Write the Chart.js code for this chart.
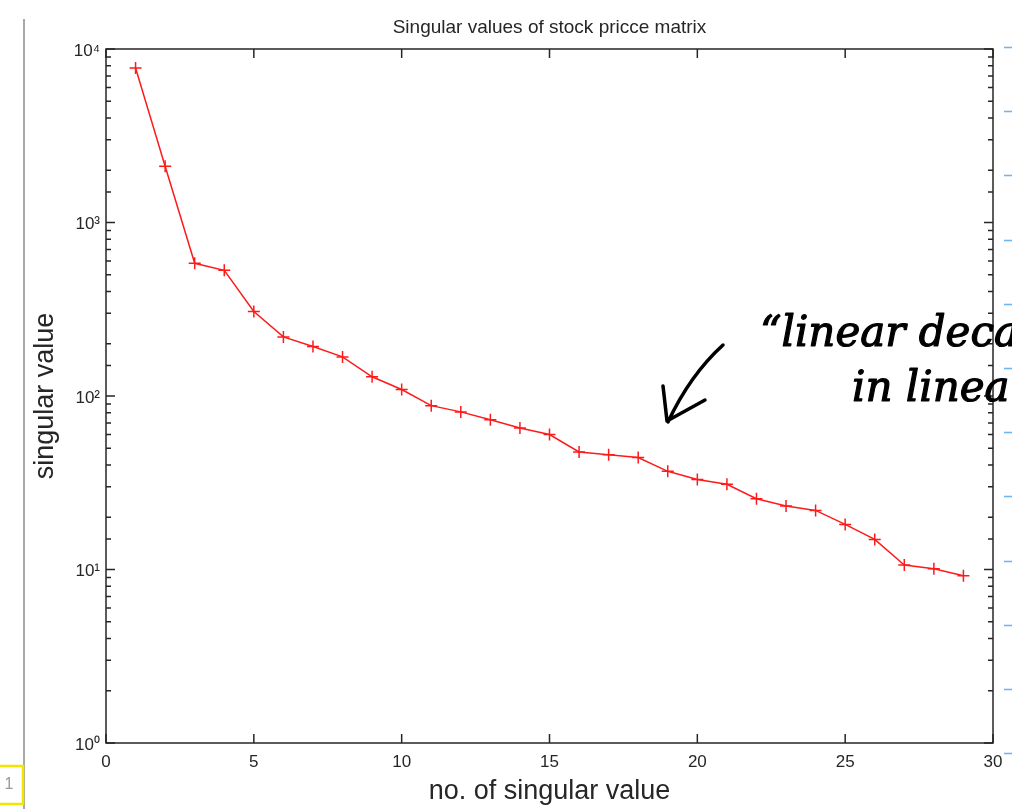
<!DOCTYPE html>
<html>
<head>
<meta charset="utf-8">
<script src="https://cdn.jsdelivr.net/npm/chart.js@4.4.1/dist/chart.umd.min.js"></script>
<style>
  html, body { margin: 0; padding: 0; background: #fff; }
  #graph { display: block; }
</style>
</head>
<body>
<canvas id="graph" width="1012" height="809"></canvas>
<script>
// rank of each singular value and its size
const ranks = [1, 2, 3, 4, 5, 6, 7, 8, 9, 10, 11, 12, 13, 14, 15, 16, 17, 18, 19, 20, 21, 22, 23, 24, 25, 26, 27, 28, 29];
const singularValues = [7770, 2110, 582, 530, 307, 219, 193, 168, 129, 109, 88, 81, 73, 65.4, 60, 47.6, 45.9, 44.2, 36.8, 33, 31, 25.6, 23.2, 21.9, 18.2, 14.9, 10.6, 10.1, 9.2];
const xTicks = [0, 5, 10, 15, 20, 25, 30];
const yDecades = [1, 10, 100, 1000, 10000];

const chartTitle = "Singular values of stock pricce matrix";
const sup = ["⁰", "¹", "²", "³", "⁴", "⁵"];
const fontFamily = "'Liberation Sans', Arial, Helvetica, sans-serif";
const axisColor = "#262626";

function isDecade(v) {
  return yDecades.some(d => Math.abs(d - v) < 1e-9);
}

// matlab style box with inward ticks, plus the title over the plot area
const matlabBox = {
  id: "matlabBox",
  afterDraw(chart) {
    const ctx = chart.ctx;
    const a = chart.chartArea;
    const xs = chart.scales.x;
    const ys = chart.scales.y;
    ctx.save();
    ctx.strokeStyle = axisColor;
    ctx.lineWidth = 1.5;
    ctx.strokeRect(a.left, a.top, a.right - a.left, a.bottom - a.top);
    ctx.beginPath();
    xs.ticks.forEach(t => {
      const px = xs.getPixelForValue(t.value);
      ctx.moveTo(px, a.bottom);
      ctx.lineTo(px, a.bottom - 9);
      ctx.moveTo(px, a.top);
      ctx.lineTo(px, a.top + 9);
    });
    ys.ticks.forEach(t => {
      const py = ys.getPixelForValue(t.value);
      const len = isDecade(t.value) ? 9 : 5;
      ctx.moveTo(a.left, py);
      ctx.lineTo(a.left + len, py);
      ctx.moveTo(a.right, py);
      ctx.lineTo(a.right - len, py);
    });
    ctx.stroke();

    ctx.fillStyle = axisColor;
    ctx.font = "19px " + fontFamily;
    ctx.textAlign = "center";
    ctx.textBaseline = "middle";
    ctx.fillText(chartTitle, (a.left + a.right) / 2, 28);
    ctx.restore();
  }
};

// bits of the screenshot around the figure: window edge, page marker, ruler, handwriting
const screenBits = {
  id: "screenBits",
  afterDraw(chart) {
    const ctx = chart.ctx;
    ctx.save();
    ctx.strokeStyle = "#8c8c8c";
    ctx.lineWidth = 1.5;
    ctx.beginPath();
    ctx.moveTo(24, 19);
    ctx.lineTo(24, 809);
    ctx.stroke();

    ctx.strokeStyle = "#f2e600";
    ctx.lineWidth = 2.5;
    ctx.strokeRect(-4, 766, 27, 38);
    ctx.fillStyle = "#9a9a9a";
    ctx.font = "16px " + fontFamily;
    ctx.textAlign = "center";
    ctx.textBaseline = "middle";
    ctx.fillText("1", 9, 785);

    ctx.strokeStyle = "#6cb4f0";
    ctx.lineWidth = 1.5;
    ctx.beginPath();
    for (let k = 0; k < 12; k++) {
      const y = Math.round(47 + 64.2 * k) + 0.5;
      ctx.moveTo(1004, y);
      ctx.lineTo(1012, y);
    }
    ctx.stroke();

    ctx.strokeStyle = "#000";
    ctx.lineWidth = 3.5;
    ctx.lineCap = "round";
    ctx.lineJoin = "round";
    ctx.beginPath();
    ctx.moveTo(723, 345);
    ctx.quadraticCurveTo(690, 375, 668, 422);
    ctx.moveTo(663, 386);
    ctx.lineTo(667, 421);
    ctx.lineTo(705, 400);
    ctx.stroke();

    ctx.fillStyle = "#000";
    ctx.lineWidth = 1.2;
    ctx.font = "italic 42px 'DejaVu Serif', serif";
    ctx.textAlign = "left";
    ctx.textBaseline = "alphabetic";
    ctx.fillText("\u201Clinear decay", 760, 346);
    ctx.strokeText("\u201Clinear decay", 760, 346);
    ctx.fillText("in linear", 852, 401);
    ctx.strokeText("in linear", 852, 401);
    ctx.restore();
  }
};

new Chart(document.getElementById("graph").getContext("2d"), {
  type: "line",
  data: {
    labels: ranks,
    datasets: [
      {
        label: "singular value",
        data: ranks.map((r, i) => ({ x: r, y: singularValues[i] })),
        borderColor: "#ff1a1a",
        backgroundColor: "#ff1a1a",
        borderWidth: 1.5,
        pointStyle: "cross",
        pointRadius: 6,
        pointBorderWidth: 1.5,
        tension: 0,
      },
    ],
  },
  options: {
    responsive: false,
    animation: false,
    devicePixelRatio: 1,
    layout: { padding: { top: 49, right: 19, left: 0, bottom: 0 } },
    plugins: {
      legend: { display: false },
      title: { display: false },
      tooltip: { enabled: false },
    },
    scales: {
      x: {
        type: "linear",
        min: 0,
        max: 30,
        grid: { display: false, drawTicks: false },
        border: { display: false },
        afterBuildTicks: scale => {
          scale.ticks = xTicks.map(v => ({ value: v }));
        },
        ticks: {
          color: axisColor,
          padding: 9,
          font: { family: fontFamily, size: 17 },
          maxRotation: 0,
        },
        title: {
          display: true,
          text: "no. of singular value",
          color: axisColor,
          font: { family: fontFamily, size: 27, lineHeight: 1.2 },
          padding: { top: 0, bottom: 1 },
        },
        afterFit: scale => { scale.height = 66; },
      },
      y: {
        type: "logarithmic",
        min: 1,
        max: 10000,
        grid: { display: false, drawTicks: false },
        border: { display: false },
        ticks: {
          autoSkip: false,
          color: axisColor,
          padding: 6,
          labelOffset: 2,
          font: { family: fontFamily, size: 17 },
          callback: v => isDecade(v) ? "10" + sup[Math.round(Math.log10(v))] : "",
        },
        title: {
          display: true,
          text: "singular value",
          color: axisColor,
          font: { family: fontFamily, size: 27, lineHeight: 1.2 },
          padding: { top: 29, bottom: 0 },
        },
        afterFit: scale => { scale.width = 106; },
      },
    },
  },
  plugins: [matlabBox, screenBits],
});
</script>
</body>
</html>
